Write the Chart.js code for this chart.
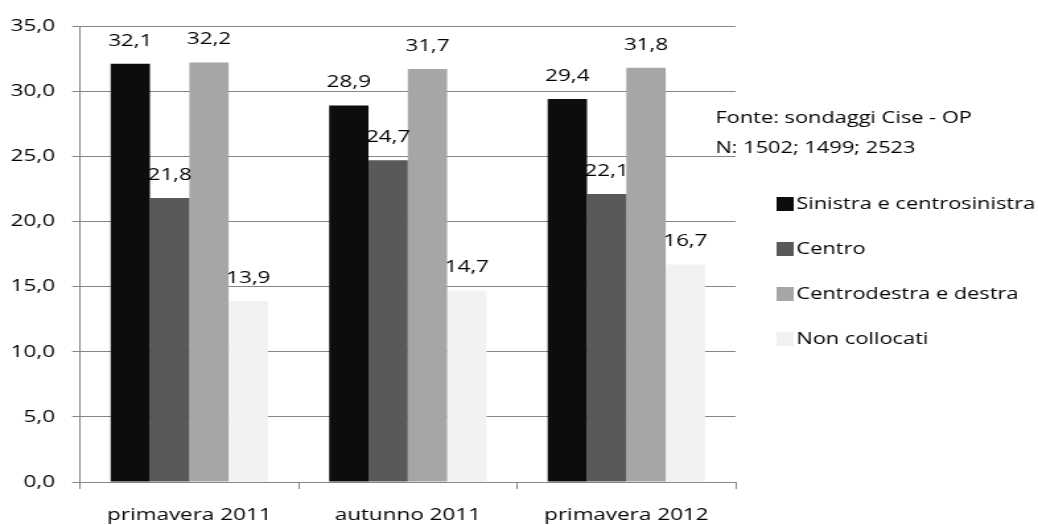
<!DOCTYPE html>
<html>
<head>
<meta charset="utf-8">
<script src="https://cdn.jsdelivr.net/npm/chart.js@4/dist/chart.umd.min.js"></script>
<style>
  html, body { margin: 0; padding: 0; background: #fff; }
  /* the original picture is stretched sideways, so the canvas is too */
  #chart { display: block; width: 1038px !important; height: 525px !important; }
</style>
</head>
<body>
<canvas id="chart" width="786" height="525"></canvas>
<script>
'use strict';

const periods = ['primavera 2011', 'autunno 2011', 'primavera 2012'];
const seriesNames = ['Sinistra e centrosinistra', 'Centro', 'Centrodestra e destra', 'Non collocati'];
const sinistra = [32.1, 28.9, 29.4];
const centro = [21.8, 24.7, 22.1];
const centrodestra = [32.2, 31.7, 31.8];
const nonCollocati = [13.9, 14.7, 16.7];
const yTicks = [0, 5, 10, 15, 20, 25, 30, 35];
const noteLines = ['Fonte: sondaggi Cise - OP', 'N: 1502; 1499; 2523'];

const colors = ['#0d0d0d', '#595959', '#a6a6a6', '#f2f2f2'];
const gridColor = '#868686';
const fontFamily = "'Open Sans', sans-serif";
const fontSize = 17;
const legendFontSize = 16.5;

const fmt = v => Number(v).toFixed(1).replace('.', ',');

const valueLabels = {
	id: 'valueLabels',
	afterDatasetsDraw(chart) {
		const ctx = chart.ctx;
		ctx.save();
		ctx.font = `${fontSize}px ${fontFamily}`;
		ctx.fillStyle = '#000';
		ctx.textAlign = 'center';
		ctx.textBaseline = 'middle';
		chart.data.datasets.forEach((ds, i) => {
			chart.getDatasetMeta(i).data.forEach((bar, j) => {
				ctx.fillText(fmt(ds.data[j]), bar.x, bar.y - 23);
			});
		});
		ctx.restore();
	},
};

const sideLegend = {
	id: 'sideLegend',
	afterDraw(chart) {
		const ctx = chart.ctx;
		ctx.save();
		ctx.font = `${legendFontSize}px ${fontFamily}`;
		ctx.textBaseline = 'middle';
		ctx.textAlign = 'left';
		ctx.fillStyle = '#000';
		noteLines.forEach((line, i) => {
			ctx.fillText(line, 541.7, 118 + i * 30);
		});
		chart.data.datasets.forEach((ds, i) => {
			const y = 204 + i * 45;
			ctx.fillStyle = ds.backgroundColor;
			ctx.fillRect(588, y - 7, 13, 14);
			ctx.fillStyle = '#000';
			ctx.fillText(ds.label, 603, y);
		});
		ctx.restore();
	},
};

const seriesData = [sinistra, centro, centrodestra, nonCollocati];

new Chart(document.getElementById('chart'), {
	type: 'bar',
	data: {
		labels: periods,
		datasets: seriesNames.map((name, i) => ({
			label: name,
			data: seriesData[i],
			backgroundColor: colors[i],
			borderWidth: 0,
			barPercentage: 1,
			categoryPercentage: 0.72,
		})),
	},
	options: {
		responsive: false,
		animation: false,
		events: [],
		layout: { padding: { top: 26, right: 229, bottom: 0, left: 0 } },
		plugins: {
			legend: { display: false },
			tooltip: { enabled: false },
		},
		scales: {
			x: {
				offset: true,
				grid: { drawOnChartArea: false, tickLength: 7, color: gridColor, offset: true },
				border: { color: gridColor },
				ticks: { padding: 16, color: '#000', font: { family: fontFamily, size: fontSize } },
				afterFit: s => { s.height = 43; },
			},
			y: {
				min: 0,
				max: 35,
				afterBuildTicks: s => { s.ticks = yTicks.map(v => ({ value: v })); },
				ticks: { padding: 13, color: '#000', font: { family: fontFamily, size: fontSize }, callback: v => fmt(v) },
				grid: { color: gridColor, tickLength: 6 },
				border: { color: gridColor },
				afterFit: s => { s.width = 60.6; },
			},
		},
	},
	plugins: [valueLabels, sideLegend],
});
</script>
</body>
</html>
